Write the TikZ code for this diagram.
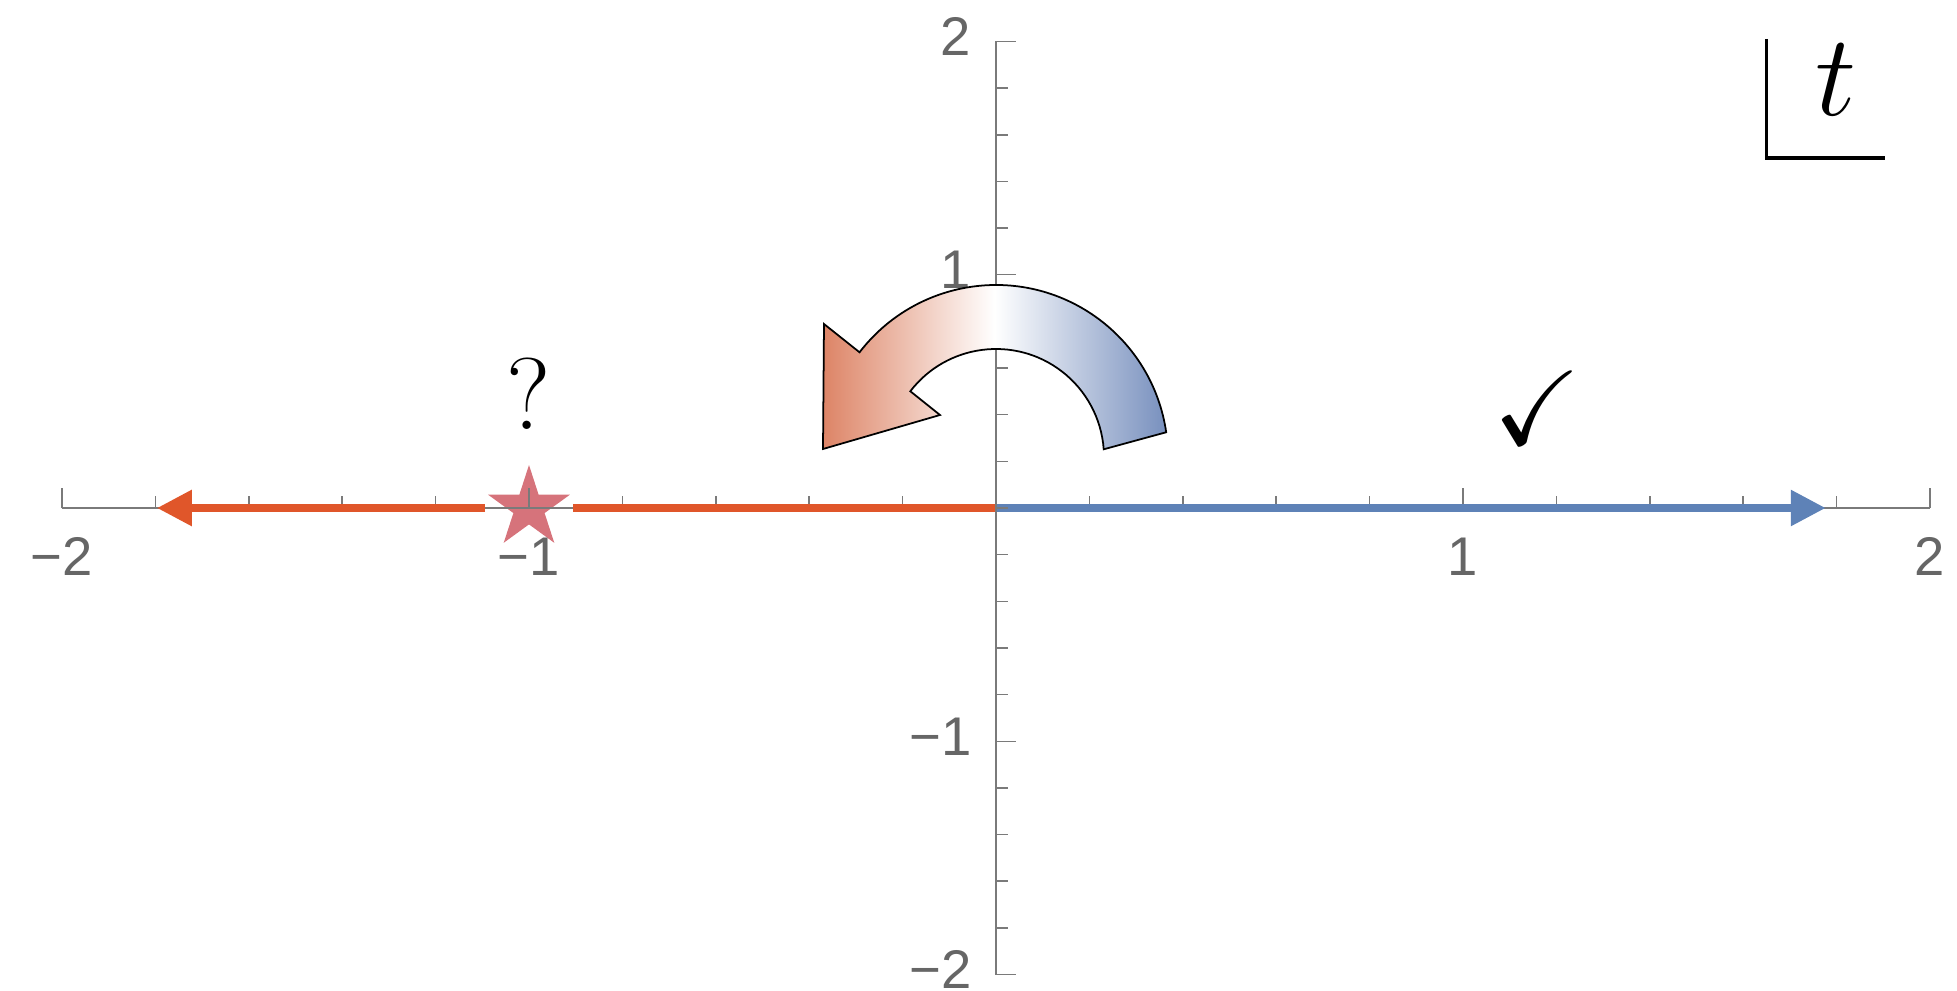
\RequirePackage{fix-cm}
\documentclass[tikz,border=0pt]{standalone}
\usepackage{amssymb}
\usepackage{fontspec}
\newfontfamily\tickfont{Liberation Sans}
\usetikzlibrary{arrows.meta}
\definecolor{negorange}{HTML}{E0562A}
\definecolor{posblue}{HTML}{5E82B7}
\definecolor{starpink}{HTML}{D6737B}
\definecolor{axisgray}{HTML}{7A7A7A}
\definecolor{labelgray}{HTML}{666666}
\definecolor{swirlleft}{HTML}{DD8466}
\definecolor{swirlright}{HTML}{7890BE}
\begin{document}
\begin{tikzpicture}[x=4.67cm,y=2.333cm,
  axisline/.style={axisgray,line width=0.45pt},
  ticklab/.style={labelgray,inner sep=0pt,font=\tickfont\fontsize{15.5}{18}\selectfont},
  rayline/.style={line width=2.4pt,line cap=butt},
  raytip/.style={-{Triangle[length=0.35cm,width=0.34cm]}}]
\useasboundingbox (-9.96cm,-4.82cm) rectangle (9.61cm,5.08cm);
% pole on the negative axis
\begin{scope}[shift={(-1,0)}]
\fill[starpink] (90:0.43cm) \foreach \a in {90,162,234,306,378}{ -- (\a+36:0.164cm) -- (\a+72:0.43cm)} -- cycle;
\end{scope}
% horizontal axis
\draw[axisline] (-2,0) -- (2,0);
\foreach \i in {-10,...,10} \draw[axisline] (\i/5,0) -- ++(0,0.12cm);
\foreach \x in {-2,-1,1,2} \draw[axisline] (\x,0) -- ++(0,0.2cm);
\node[ticklab,anchor=north] (xm2) at ([yshift=-0.29cm]-2,0) {−2};
\node[ticklab,anchor=north] (xm1) at ([yshift=-0.29cm]-1,0) {−1};
\node[ticklab,anchor=north] (xp1) at ([yshift=-0.29cm]1,0) {1};
\node[ticklab,anchor=north] (xp2) at ([yshift=-0.29cm]2,0) {2};
% rays
\coordinate (O) at (0,0);
\coordinate (gapR) at (-0.906,0);
\coordinate (gapL) at (-1.094,0);
\coordinate (negEnd) at (-1.797,0);
\coordinate (posEnd) at (1.777,0);
\draw[rayline,negorange] (O) -- (gapR);
\draw[rayline,negorange,raytip] (gapL) -- (negEnd);
\draw[rayline,posblue,raytip] (O) -- (posEnd);
% vertical axis
\draw[axisline] (0,-2) -- (0,2);
\foreach \i in {-10,...,10} \draw[axisline] (0,\i/5) -- ++(0.12cm,0);
\foreach \y in {-2,-1,1,2} \draw[axisline] (0,\y) -- ++(0.2cm,0);
\node[ticklab,anchor=east] (ym2) at ([xshift=-0.24cm,yshift=0.05cm]0,-2) {−2};
\node[ticklab,anchor=east] (ym1) at ([xshift=-0.24cm,yshift=0.05cm]0,-1) {−1};
\node[ticklab,anchor=east] (yp1) at ([xshift=-0.24cm,yshift=0.05cm]0,1) {1};
\node[ticklab,anchor=east] (yp2) at ([xshift=-0.24cm,yshift=0.05cm]0,2) {2};
% rotation arrow
\begin{scope}[x=1cm,y=1cm,shift={(0,0.51)}]
\shade[draw=black,line width=0.5pt,left color=swirlleft,right color=swirlright,middle color=white]
  (8.27:1.72) arc[start angle=8.27,end angle=142.5,radius=1.72]
  -- (-1.72,1.33) -- (-1.73,0.08) -- (-0.56,0.42)
  -- (142.5:1.08) arc[start angle=142.5,end angle=4.1,radius=1.08] -- cycle;
\end{scope}
% marks
\node[font=\fontsize{29}{34}\selectfont] (pole) at (-1,0.489) {?};
\node[font=\fontsize{30}{36}\selectfont] (good) at (1.16,0.43) {$\checkmark$};
% variable box
\node[font=\fontsize{33}{40}\selectfont,anchor=base] (tvar) at (8.40cm,3.92cm) {$t$};
\coordinate (Ltop) at (7.707cm,4.69cm);
\coordinate (Lcorner) at (7.707cm,3.50cm);
\coordinate (Lright) at (8.89cm,3.50cm);
\draw[line width=0.95pt] (Ltop) -- (Lcorner) -- (Lright);
\end{tikzpicture}
\end{document}
